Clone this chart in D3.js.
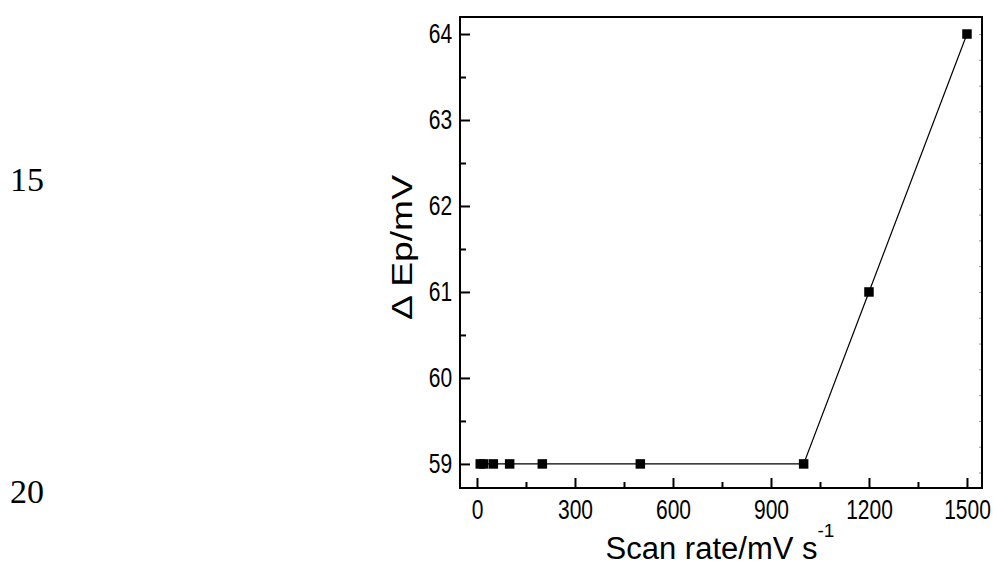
<!DOCTYPE html>
<html>
<head>
<meta charset="utf-8">
<script src="https://cdn.jsdelivr.net/npm/d3@7"></script>
<style>
  body { margin: 0; background: #fff; }
  svg text { font-family: "Liberation Sans", Arial, sans-serif; fill: #000; }
  svg text.side { font-family: "Liberation Serif", "Times New Roman", serif; }
</style>
</head>
<body>
<div class="chart"></div>
<script>
// scan rate vs peak separation
var scanRate = [10, 20, 50, 100, 200, 500, 1000, 1200, 1500];
var deltaEp = [59, 59, 59, 59, 59, 59, 59, 61, 64];

var xTicks = [0, 300, 600, 900, 1200, 1500];
var xMinor = [150, 450, 750, 1050, 1350];
var yTicks = [59, 60, 61, 62, 63, 64];
var yMinor = [59.5, 60.5, 61.5, 62.5, 63.5];
var sideLabels = ["15", "20"];

var svgWidth = 993;
var svgHeight = 571;
var margin = { top: 17, right: 11, bottom: 83, left: 460 };
var width = svgWidth - margin.left - margin.right;
var height = svgHeight - margin.top - margin.bottom;

var svg = d3.select(".chart").append("svg")
  .attr("width", svgWidth)
  .attr("height", svgHeight);

var chart = svg.append("g")
  .attr("transform", "translate(" + margin.left + "," + margin.top + ")");

var x = d3.scaleLinear().domain([-52, 1546]).range([0, width]);
var y = d3.scaleLinear().domain([58.72, 64.198]).range([height, 0]);

// minor ticks first so the major axis paints over them
chart.append("g")
  .attr("transform", "translate(0," + height + ")")
  .call(d3.axisBottom(x).tickValues(xMinor).tickSizeInner(-6).tickSizeOuter(0).tickFormat(""))
  .call(function(g) { g.select(".domain").remove(); });

chart.append("g")
  .call(d3.axisLeft(y).tickValues(yMinor).tickSizeInner(-6).tickSizeOuter(0).tickFormat(""))
  .call(function(g) { g.select(".domain").remove(); });

var xAxis = chart.append("g")
  .attr("transform", "translate(0," + height + ")")
  .call(d3.axisBottom(x).tickValues(xTicks).tickFormat(d3.format("d"))
    .tickSizeInner(-10).tickSizeOuter(0).tickPadding(11))
  .call(function(g) { g.select(".domain").remove(); });

var yAxis = chart.append("g")
  .call(d3.axisLeft(y).tickValues(yTicks).tickFormat(d3.format("d"))
    .tickSizeInner(-10).tickSizeOuter(0).tickPadding(10.5))
  .call(function(g) { g.select(".domain").remove(); });

chart.selectAll(".tick line").attr("stroke", "#000").attr("stroke-width", 2);

// narrow-looking tick labels
xAxis.selectAll("text").style("font-size", "28px")
  .attr("transform", "scale(0.75,1)");
yAxis.selectAll("text").style("font-size", "28px")
  .attr("transform", "scale(0.75,1)");

// faint ticks on the right edge
var rightTicks = d3.range(0, 18).map(function(i) { return 64 - i * 0.3; });
chart.append("g")
  .attr("transform", "translate(" + width + ",0)")
  .call(d3.axisRight(y).tickValues(rightTicks).tickSizeInner(-3).tickSizeOuter(0).tickFormat(""))
  .call(function(g) {
    g.select(".domain").remove();
    g.selectAll(".tick line").attr("stroke", "#999").attr("stroke-width", 1);
  });

// frame
chart.append("rect")
  .attr("width", width)
  .attr("height", height)
  .attr("fill", "none")
  .attr("stroke", "#000")
  .attr("stroke-width", 2);

var points = scanRate.map(function(d, i) { return [d, deltaEp[i]]; });

chart.append("path")
  .datum(points)
  .attr("fill", "none")
  .attr("stroke", "#000")
  .attr("stroke-width", 1.2)
  .attr("d", d3.line().x(function(d) { return x(d[0]); }).y(function(d) { return y(d[1]); }));

var sq = 9.5;
chart.selectAll("rect.pt")
  .data(points)
  .enter().append("rect")
  .attr("class", "pt")
  .attr("x", function(d) { return x(d[0]) - sq / 2; })
  .attr("y", function(d) { return y(d[1]) - sq / 2; })
  .attr("width", sq)
  .attr("height", sq)
  .attr("fill", "#000");

// axis titles
var xTitle = chart.append("text")
  .attr("x", width / 2 - 1)
  .attr("y", height + 71)
  .attr("text-anchor", "middle")
  .style("font-size", "31px");
xTitle.append("tspan").text("Scan rate/mV s");
xTitle.append("tspan").attr("dy", -22).style("font-size", "19px").text("-1");

chart.append("text")
  .attr("transform", "translate(" + (-48) + "," + (height / 2 - 5) + ") rotate(-90)")
  .attr("text-anchor", "middle")
  .style("font-size", "30px")
  .attr("textLength", 145)
  .attr("lengthAdjust", "spacingAndGlyphs")
  .text("\u0394 Ep/mV");

// stray labels on the left of the figure
svg.selectAll("text.side")
  .data(sideLabels)
  .enter().append("text")
  .attr("class", "side")
  .attr("x", 10)
  .attr("y", function(d, i) { return i === 0 ? 191 : 503; })
  .style("font-size", "34px")
  .text(function(d) { return d; });
</script>
</body>
</html>
